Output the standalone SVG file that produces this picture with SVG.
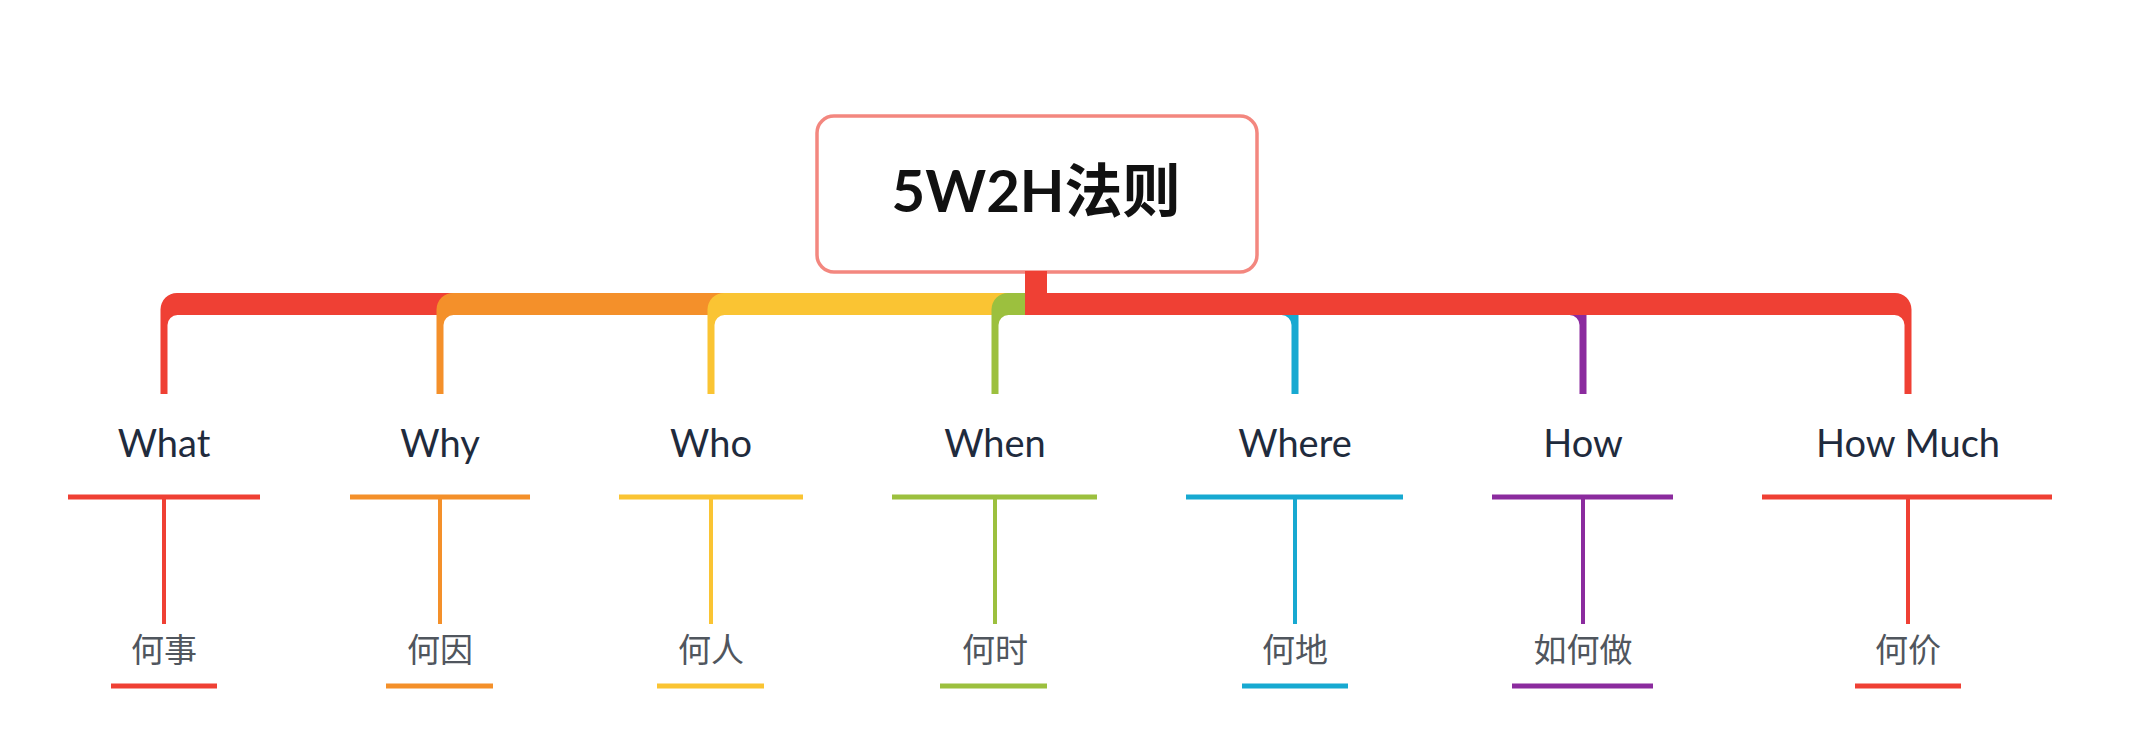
<svg xmlns="http://www.w3.org/2000/svg" width="2138" height="756" viewBox="0 0 2138 756">
  <style>
    .root-box { fill: #ffffff; stroke: #f3877f; stroke-width: 3.5; }
    .root-text { font-family: Lato, "Noto Sans CJK SC", sans-serif; font-weight: 700; font-size: 58px; fill: #111111; }
    .label { font-family: Lato, "Noto Sans", sans-serif; font-size: 38px; fill: #1f2b3d; }
    .sub { font-family: "Noto Sans CJK SC", sans-serif; font-size: 33px; fill: #50565e; }
    .bar { stroke-width: 5; stroke-linecap: butt; }
    .stem { stroke-width: 4; }
    .red { fill: #ef4034; stroke: #ef4034; }
    .orange { fill: #f4902a; stroke: #f4902a; }
    .yellow { fill: #fac433; stroke: #fac433; }
    .green { fill: #9cc03e; stroke: #9cc03e; }
    .blue { fill: #17a9d1; stroke: #17a9d1; }
    .purple { fill: #8b2b9e; stroke: #8b2b9e; }
    .branch { stroke: none; }
  </style>

  <rect width="2138" height="756" fill="#ffffff"/>

  <!-- root topic -->
  <g id="root">
    <rect class="root-box" x="817" y="116" width="440" height="156" rx="17"/>
    <text class="root-text" x="1036" y="212" text-anchor="middle">5W2H法则</text>
  </g>

  <!-- tapered branches: thick horizontal run, rounded elbow, thin drop -->
  <g id="connectors">
    <path class="branch red" d="M1036 293 H177 A16.5 16.5 0 0 0 160.5 309.5 V394 H167.5 V325 A10 10 0 0 1 177.5 315 H1036 Z"/>
    <path class="branch orange" d="M1036 293 H453 A16.5 16.5 0 0 0 436.5 309.5 V394 H443.5 V325 A10 10 0 0 1 453.5 315 H1036 Z"/>
    <path class="branch yellow" d="M1036 293 H724 A16.5 16.5 0 0 0 707.5 309.5 V394 H714.5 V325 A10 10 0 0 1 724.5 315 H1036 Z"/>
    <path class="branch green" d="M1036 293 H1008 A16.5 16.5 0 0 0 991.5 309.5 V394 H998.5 V325 A10 10 0 0 1 1008.5 315 H1036 Z"/>
    <path class="branch blue" d="M1025 293 H1282 A16.5 16.5 0 0 1 1298.5 309.5 V394 H1291.5 V325 A10 10 0 0 0 1281.5 315 H1025 Z"/>
    <path class="branch purple" d="M1025 293 H1570 A16.5 16.5 0 0 1 1586.5 309.5 V394 H1579.5 V325 A10 10 0 0 0 1569.5 315 H1025 Z"/>
    <path class="branch red" d="M1025 293 H1895 A16.5 16.5 0 0 1 1911.5 309.5 V394 H1904.5 V325 A10 10 0 0 0 1894.5 315 H1025 Z"/>
    <rect class="branch red" x="1025" y="271" width="22" height="30"/>
  </g>

  <g id="what">
    <text class="label" x="164" y="457" text-anchor="middle">What</text>
    <line class="bar red" x1="68" y1="497" x2="260" y2="497"/>
    <line class="stem red" x1="164" y1="497" x2="164" y2="624"/>
    <text class="sub" x="164" y="662" text-anchor="middle">何事</text>
    <line class="bar red" x1="111" y1="686" x2="217" y2="686"/>
  </g>

  <g id="why">
    <text class="label" x="440" y="457" text-anchor="middle">Why</text>
    <line class="bar orange" x1="350" y1="497" x2="530" y2="497"/>
    <line class="stem orange" x1="440" y1="497" x2="440" y2="624"/>
    <text class="sub" x="440" y="662" text-anchor="middle">何因</text>
    <line class="bar orange" x1="386" y1="686" x2="493" y2="686"/>
  </g>

  <g id="who">
    <text class="label" x="711" y="457" text-anchor="middle">Who</text>
    <line class="bar yellow" x1="619" y1="497" x2="803" y2="497"/>
    <line class="stem yellow" x1="711" y1="497" x2="711" y2="624"/>
    <text class="sub" x="711" y="662" text-anchor="middle">何人</text>
    <line class="bar yellow" x1="657" y1="686" x2="764" y2="686"/>
  </g>

  <g id="when">
    <text class="label" x="995" y="457" text-anchor="middle">When</text>
    <line class="bar green" x1="892" y1="497" x2="1097" y2="497"/>
    <line class="stem green" x1="995" y1="497" x2="995" y2="624"/>
    <text class="sub" x="995" y="662" text-anchor="middle">何时</text>
    <line class="bar green" x1="940" y1="686" x2="1047" y2="686"/>
  </g>

  <g id="where">
    <text class="label" x="1295" y="457" text-anchor="middle">Where</text>
    <line class="bar blue" x1="1186" y1="497" x2="1403" y2="497"/>
    <line class="stem blue" x1="1295" y1="497" x2="1295" y2="624"/>
    <text class="sub" x="1295" y="662" text-anchor="middle">何地</text>
    <line class="bar blue" x1="1242" y1="686" x2="1348" y2="686"/>
  </g>

  <g id="how">
    <text class="label" x="1583" y="457" text-anchor="middle">How</text>
    <line class="bar purple" x1="1492" y1="497" x2="1673" y2="497"/>
    <line class="stem purple" x1="1583" y1="497" x2="1583" y2="624"/>
    <text class="sub" x="1583" y="662" text-anchor="middle">如何做</text>
    <line class="bar purple" x1="1512" y1="686" x2="1653" y2="686"/>
  </g>

  <g id="how-much">
    <text class="label" x="1908" y="457" text-anchor="middle">How Much</text>
    <line class="bar red" x1="1762" y1="497" x2="2052" y2="497"/>
    <line class="stem red" x1="1908" y1="497" x2="1908" y2="624"/>
    <text class="sub" x="1908" y="662" text-anchor="middle">何价</text>
    <line class="bar red" x1="1855" y1="686" x2="1961" y2="686"/>
  </g>
</svg>
